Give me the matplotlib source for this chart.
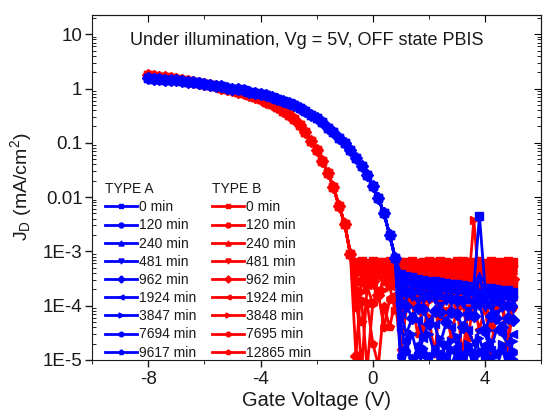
import matplotlib.pyplot as plt
import numpy as np

plt.rcParams['font.family'] = ['Liberation Sans', 'DejaVu Sans']
plt.rcParams['mathtext.fontset'] = 'custom'
plt.rcParams['mathtext.rm'] = 'Liberation Sans'
plt.rcParams['mathtext.it'] = 'Liberation Sans:italic'

# gate voltage sweep (V)
gate_v = np.round(np.arange(-8.0, 5.01, 0.2), 1)

# TYPE A (blue): on-region -8.0 .. 0.8 V shared by all curves
a_on = [1.55, 1.52, 1.49, 1.46, 1.43, 1.41, 1.37, 1.33, 1.29, 1.25,
        1.21, 1.17, 1.13, 1.09, 1.04, 1.00, 0.96, 0.92, 0.88, 0.84,
        0.80, 0.75, 0.70, 0.65, 0.60, 0.55, 0.50, 0.44, 0.38, 0.33,
        0.29, 0.24, 0.19, 0.155, 0.125, 0.10, 0.074, 0.053, 0.037, 0.025,
        0.016, 9.5e-3, 5.0e-3, 2.0e-3, 7.5e-4]
# off-region 1.0 .. 5.0 V, one list per stress time
a_off = [
    [3.9e-4, 3.5e-4, 3.3e-4, 3.1e-4, 3.0e-4, 2.9e-4, 2.8e-4, 2.7e-4, 2.6e-4, 2.5e-4,
     2.45e-4, 2.4e-4, 2.3e-4, 2.25e-4, 4.5e-3, 2.15e-4, 2.1e-4, 2.0e-4, 1.95e-4, 1.9e-4,
     1.8e-4],
    [2.9e-4, 2.8e-4, 2.6e-4, 2.5e-4, 2.4e-4, 2.3e-4, 2.2e-4, 2.15e-4, 2.1e-4, 2.0e-4,
     1.95e-4, 1.9e-4, 1.8e-4, 1.75e-4, 1.7e-4, 1.65e-4, 1.6e-4, 1.55e-4, 1.5e-4, 1.5e-4,
     1.45e-4],
    [2.2e-4, 2.1e-4, 2.0e-4, 1.9e-4, 1.8e-4, 1.75e-4, 1.7e-4, 1.6e-4, 1.55e-4, 1.5e-4,
     1.45e-4, 1.4e-4, 1.35e-4, 1.3e-4, 3.5e-4, 1.25e-4, 1.2e-4, 1.2e-4, 1.15e-4, 1.1e-4,
     1.1e-4],
    [1.6e-4, 1.5e-4, 1.45e-4, 1.2e-4, 1.35e-4, 1.3e-4, 1.25e-4, 1.0e-4, 1.2e-4, 1.15e-4,
     1.1e-4, 1.05e-4, 8.0e-5, 1.0e-4, 1.0e-4, 9.5e-5, 9.0e-5, 7.0e-5, 9.0e-5, 8.5e-5,
     8.5e-5],
    [1.1e-4, 1.0e-4, 6.0e-5, 9.0e-5, 8.5e-5, 4.5e-5, 8.0e-5, 7.5e-5, 5.0e-5, 7.5e-5,
     7.0e-5, 4.0e-5, 7.0e-5, 6.5e-5, 1.2e-4, 3.5e-5, 6.5e-5, 6.0e-5, 4.0e-5, 6.0e-5,
     5.5e-5],
    [7.0e-5, 3.0e-5, 6.0e-5, 5.5e-5, 2.5e-5, 5.0e-5, 4.5e-5, 2.0e-5, 4.5e-5, 4.0e-5,
     1.8e-5, 4.0e-5, 3.5e-5, 2.0e-5, 3.5e-5, 3.0e-5, 1.5e-5, 3.5e-5, 3.0e-5, 2.0e-5,
     3.0e-5],
    [4.0e-5, 1.5e-5, 3.0e-5, 1.2e-5, 2.5e-5, 3.0e-5, 1.3e-5, 2.5e-5, 1.1e-5, 2.2e-5,
     2.8e-5, 1.2e-5, 2.0e-5, 1.4e-5, 2.5e-5, 1.1e-5, 2.2e-5, 1.3e-5, 2.0e-5, 1.2e-5,
     2.2e-5],
    [1.2e-5, 2.2e-5, 8.0e-6, 1.8e-5, 1.3e-5, 7.0e-6, 1.6e-5, 1.2e-5, 1.9e-5, 8.0e-6,
     1.5e-5, 1.1e-5, 1.7e-5, 7.0e-6, 1.4e-5, 1.8e-5, 9.0e-6, 1.3e-5, 1.6e-5, 8.0e-6,
     1.4e-5],
    [6.0e-6, 1.4e-5, 1.1e-5, 6.0e-6, 1.6e-5, 1.2e-5, 7.0e-6, 1.3e-5, 6.0e-6, 1.5e-5,
     1.1e-5, 7.0e-6, 1.4e-5, 1.2e-5, 6.0e-6, 1.3e-5, 1.1e-5, 7.0e-6, 1.5e-5, 1.2e-5,
     1.0e-5],
]
a_labels = ["0 min", "120 min", "240 min", "481 min", "962 min",
            "1924 min", "3847 min", "7694 min", "9617 min"]

# TYPE B (red): on-region -8.0 .. -0.8 V shared by all curves
b_on = [1.75, 1.70, 1.65, 1.60, 1.54, 1.49, 1.43, 1.38, 1.32, 1.26,
        1.20, 1.15, 1.09, 1.04, 0.98, 0.93, 0.87, 0.81, 0.75, 0.69,
        0.63, 0.57, 0.51, 0.45, 0.39, 0.33, 0.27, 0.21, 0.155, 0.11,
        0.075, 0.047, 0.028, 0.015, 6.8e-3, 3.2e-3, 9.0e-4]
# off-region -0.6 .. 5.0 V
b_off = [
    [6.3e-4, 6.5e-4, 6.2e-4, 6.6e-4, 6.4e-4, 6.3e-4, 6.5e-4, 6.6e-4, 6.3e-4, 6.4e-4,
     6.5e-4, 6.2e-4, 6.4e-4, 6.6e-4, 6.3e-4, 6.5e-4, 6.4e-4, 6.2e-4, 6.5e-4, 6.6e-4,
     6.3e-4, 6.4e-4, 6.5e-4, 6.2e-4, 6.6e-4, 6.4e-4, 6.3e-4, 6.5e-4, 6.4e-4],
    [5.6e-4, 5.3e-4, 5.7e-4, 5.4e-4, 5.2e-4, 5.6e-4, 5.5e-4, 5.3e-4, 5.7e-4, 5.4e-4,
     5.2e-4, 5.5e-4, 5.6e-4, 5.3e-4, 5.4e-4, 5.7e-4, 5.2e-4, 5.5e-4, 5.4e-4, 5.3e-4,
     5.6e-4, 5.5e-4, 5.2e-4, 5.4e-4, 5.7e-4, 5.3e-4, 5.5e-4, 5.6e-4, 5.4e-4],
    [4.4e-4, 4.7e-4, 4.5e-4, 4.2e-4, 4.8e-4, 4.6e-4, 4.3e-4, 4.7e-4, 4.5e-4, 4.4e-4,
     4.8e-4, 4.3e-4, 4.6e-4, 4.5e-4, 4.2e-4, 4.7e-4, 4.4e-4, 4.6e-4, 4.8e-4, 4.3e-4,
     4.5e-4, 4.7e-4, 4.4e-4, 4.6e-4, 4.3e-4, 4.8e-4, 4.5e-4, 4.4e-4, 4.6e-4],
    [3.6e-4, 4.0e-4, 3.8e-4, 2.4e-4, 3.9e-4, 3.7e-4, 4.1e-4, 3.5e-4, 3.9e-4, 2.6e-4,
     3.8e-4, 4.0e-4, 3.6e-4, 3.9e-4, 3.7e-4, 2.9e-4, 4.0e-4, 3.8e-4, 3.6e-4, 3.9e-4,
     3.7e-4, 4.1e-4, 3.8e-4, 3.5e-4, 3.9e-4, 3.7e-4, 4.0e-4, 3.6e-4, 3.8e-4],
    [1.2e-5, 3.0e-4, 3.3e-4, 2.9e-4, 1.6e-4, 3.2e-4, 3.4e-4, 2.8e-4, 3.1e-4, 3.3e-4,
     2.2e-4, 3.2e-4, 3.0e-4, 3.4e-4, 2.7e-4, 3.1e-4, 3.3e-4, 1.8e-4, 3.2e-4, 3.0e-4,
     3.3e-4, 2.9e-4, 3.1e-4, 3.4e-4, 2.6e-4, 3.2e-4, 3.0e-4, 3.3e-4, 3.1e-4],
    [2.7e-4, 6.0e-6, 2.4e-4, 2.8e-4, 1.9e-4, 2.6e-4, 2.3e-4, 2.9e-4, 1.4e-4, 2.5e-4,
     2.7e-4, 2.2e-4, 2.6e-4, 1.6e-4, 2.8e-4, 2.4e-4, 2.5e-4, 2.7e-4, 1.5e-4, 2.6e-4,
     2.3e-4, 2.8e-4, 2.4e-4, 1.7e-4, 2.6e-4, 2.5e-4, 2.2e-4, 2.7e-4, 2.4e-4],
    [2.1e-4, 1.8e-4, 2.2e-4, 1.1e-4, 2.0e-4, 1.9e-4, 2.3e-4, 8.0e-5, 2.1e-4, 1.7e-4,
     2.0e-4, 2.2e-4, 1.2e-4, 1.9e-4, 2.1e-4, 6.0e-5, 2.0e-4, 1.8e-4, 2.2e-4, 1.0e-4,
     1.9e-4, 3.8e-3, 2.0e-4, 1.8e-4, 2.1e-4, 9.0e-5, 1.9e-4, 2.2e-4, 2.0e-4],
    [1.5e-4, 1.2e-4, 7.0e-6, 1.1e-4, 1.6e-4, 4.0e-5, 1.3e-4, 1.5e-4, 6.0e-5, 1.4e-4,
     1.2e-4, 1.6e-4, 3.0e-5, 1.3e-4, 1.5e-4, 1.1e-4, 5.0e-5, 1.4e-4, 1.6e-4, 1.2e-4,
     2.5e-5, 1.4e-4, 1.3e-4, 1.5e-4, 4.0e-5, 1.2e-4, 1.6e-4, 2.0e-5, 1.4e-4],
    [9.0e-5, 5.0e-5, 1.1e-4, 2.0e-5, 8.0e-6, 1.0e-4, 4.0e-5, 1.2e-4, 1.5e-5, 9.0e-5,
     1.1e-4, 3.0e-5, 1.0e-4, 6.0e-5, 1.3e-5, 1.1e-4, 8.0e-5, 2.5e-5, 1.0e-4, 1.2e-5,
     9.0e-5, 1.1e-4, 3.5e-5, 1.0e-4, 1.4e-5, 8.0e-5, 1.1e-4, 1.6e-5, 9.0e-5],
]
b_labels = ["0 min", "120 min", "240 min", "481 min", "962 min",
            "1924 min", "3848 min", "7695 min", "12865 min"]

y_ticks = [1e-5, 1e-4, 1e-3, 1e-2, 1e-1, 1, 10]
y_tick_labels = ["1E-5", "1E-4", "1E-3", "0.01", "0.1", "1", "10"]
x_ticks = [-8, -4, 0, 4]

markers = ['s', 'o', '^', 'v', 'D', '<', '>', 'h', 'p']
blue = '#0000ff'
red = '#ff0000'
txt = '#1a1a1a'

fig = plt.figure(figsize=(5.45, 4.17), dpi=100)
ax = fig.add_axes([0.169, 0.137, 0.824, 0.828])

red_lines = []
for off, lab, m in zip(b_off, b_labels, markers):
    y = np.array(b_on + off)
    ln, = ax.plot(gate_v, y, color=red, marker=m, ms=6, lw=2, label=lab)
    red_lines.append(ln)

blue_lines = []
for off, lab, m in zip(a_off, a_labels, markers):
    y = np.array(a_on + off)
    ln, = ax.plot(gate_v, y, color=blue, marker=m, ms=6, lw=2, label=lab)
    blue_lines.append(ln)

ax.set_yscale('log')
ax.set_ylim(1e-5, 23)
ax.set_xlim(-10, 6)
ax.set_yticks(y_ticks)
ax.set_yticklabels(y_tick_labels)
ax.set_xticks(x_ticks)
ax.set_xticklabels([str(v) for v in x_ticks])
ax.xaxis.set_minor_locator(plt.MultipleLocator(2))

ax.tick_params(axis='both', which='major', labelsize=13.5, colors=txt, width=1)
ax.tick_params(axis='x', which='major', direction='out', length=5, pad=3)
ax.tick_params(axis='x', which='minor', direction='out', length=3)
ax.tick_params(axis='y', which='major', direction='out', length=5, pad=2)
ax.tick_params(axis='y', which='minor', direction='in', length=3)

secx = ax.secondary_xaxis('top')
secx.set_xticks(x_ticks)
secx.xaxis.set_minor_locator(plt.MultipleLocator(2))
secx.tick_params(which='major', direction='in', length=5, labeltop=False)
secx.tick_params(which='minor', direction='in', length=3)
secy = ax.secondary_yaxis('right')
secy.set_yticks(y_ticks)
secy.tick_params(which='major', direction='in', length=5, labelright=False)
secy.tick_params(which='minor', direction='in', length=3)

for sp in list(ax.spines.values()) + [secx.spines['top'], secy.spines['right']]:
    sp.set_color(txt)

ax.set_xlabel("Gate Voltage (V)", fontsize=14.5, color=txt, labelpad=2)
ax.set_ylabel(r"J$_\mathrm{D}$ (mA/cm$^2$)", fontsize=14, color=txt, labelpad=6)

ax.text(0.477, 0.925, "Under illumination, Vg = 5V, OFF state PBIS",
        transform=ax.transAxes, ha='center', va='center', fontsize=13, color=txt)

leg_kw = dict(loc='upper left', frameon=False, fontsize=10, title_fontsize=10,
              alignment='left', handlelength=2.3, handletextpad=0.15,
              labelspacing=0.3, borderpad=0, borderaxespad=0, markerscale=0.6)
leg_a = ax.legend(handles=blue_lines, title="TYPE A",
                  bbox_to_anchor=(0.029, 0.515), **leg_kw)
for t in leg_a.get_texts() + [leg_a.get_title()]:
    t.set_color(txt)
ax.add_artist(leg_a)
leg_b = ax.legend(handles=red_lines, title="TYPE B",
                  bbox_to_anchor=(0.267, 0.515), **leg_kw)
for t in leg_b.get_texts() + [leg_b.get_title()]:
    t.set_color(txt)

fig.savefig("out.png", dpi=100)
